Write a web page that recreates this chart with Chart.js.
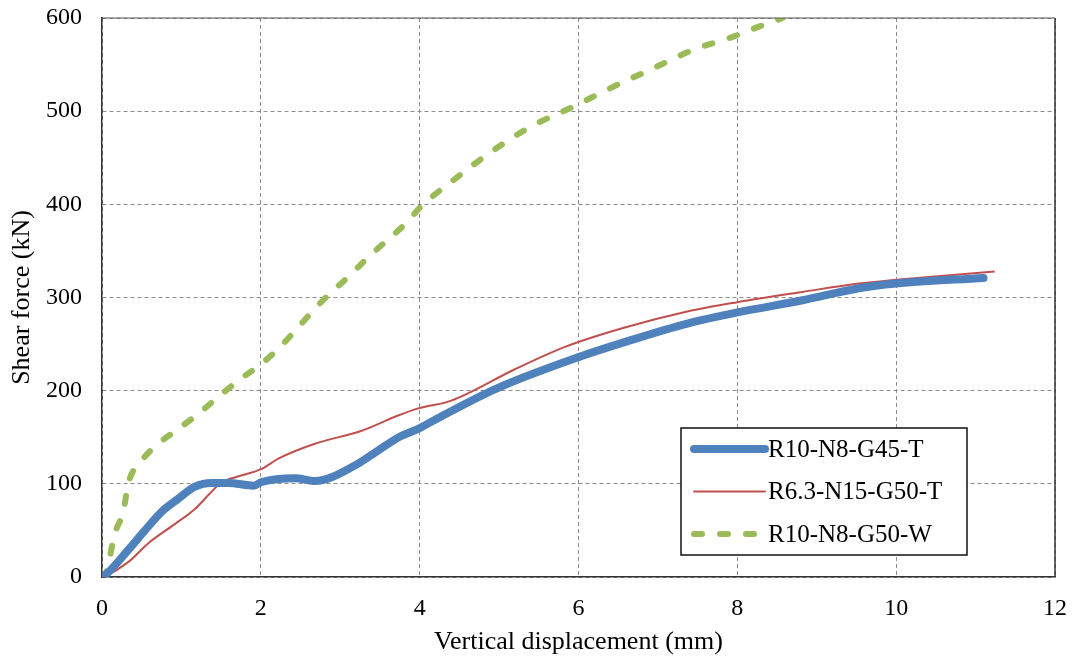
<!DOCTYPE html>
<html>
<head>
<meta charset="utf-8">
<title>Shear force vs vertical displacement</title>
<script src="https://cdn.jsdelivr.net/npm/chart.js@4.4.1/dist/chart.umd.min.js"></script>
<style>
    html, body { margin: 0; padding: 0; background: #fff; }
    #wrap { width: 1072px; height: 659px; }
</style>
</head>
<body>
<div id="wrap"><canvas id="chart" width="1072" height="659"></canvas></div>
<script>
// R10-N8-G45-T
const blueDisp  = [0, 0.04, 0.33, 0.54, 0.75, 0.96, 1.17, 1.38, 1.59, 1.91, 2.01, 2.43, 2.68, 3.19, 3.48, 3.76, 3.98, 4.24, 4.96, 6.0, 6.65, 7.37, 8.0, 8.82, 9.53, 10.0, 11.1];
const blueForce = [0, 2, 29, 50, 70, 84, 97, 101, 101, 98, 102, 106, 103, 120, 136, 151, 159, 171, 202, 236, 254, 272, 284, 297, 310, 315, 321];

// R6.3-N15-G50-T
const redDisp  = [0, 0.04, 0.33, 0.58, 0.92, 1.17, 1.34, 1.51, 1.68, 2.01, 2.22, 2.68, 3.27, 3.69, 3.98, 4.39, 5.2, 5.83, 6.55, 7.37, 8.0, 8.82, 9.53, 10.0, 11.24];
const redForce = [0, 1, 16, 36, 57, 73, 88, 102, 107, 116, 127, 143, 157, 172, 181, 189, 223, 247, 267, 285, 295, 306, 315, 319, 328];

// R10-N8-G50-W
const greenDisp  = [0, 0.04, 0.08, 0.16, 0.27, 0.33, 0.5, 0.71, 0.96, 1.21, 1.46, 1.72, 2.01, 2.22, 2.47, 2.68, 2.89, 3.1, 3.35, 3.61, 3.82, 4.01, 4.47, 4.93, 5.39, 5.94, 6.36, 6.94, 7.45, 7.95, 8.28, 8.57];
const greenForce = [0, 2, 14, 46, 71, 100, 125, 143, 159, 175, 193, 211, 229, 245, 268, 288, 306, 322, 343, 363, 379, 397, 429, 458, 483, 505, 523, 546, 566, 580, 591, 600];

const seriesNames = ["R10-N8-G45-T", "R6.3-N15-G50-T", "R10-N8-G50-W"];
const xTicks = [0, 2, 4, 6, 8, 10, 12];
const yTicks = [0, 100, 200, 300, 400, 500, 600];

const serif = '"Liberation Serif", "Times New Roman", Times, serif';
const gridColor = "#8c8c8c";
const axisColor = "#333333";

function toPoints(xs, ys) {
    return xs.map(function (x, i) { return { x: x, y: ys[i] }; });
}

// right/top edges of the plot frame
const frame = {
    id: "frame",
    afterDraw(chart) {
        const a = chart.chartArea;
        const ctx = chart.ctx;
        ctx.save();
        ctx.strokeStyle = axisColor;
        ctx.lineWidth = 1.5;
        ctx.beginPath();
        ctx.moveTo(a.right, a.top);
        ctx.lineTo(a.right, a.bottom);
        ctx.stroke();
        ctx.strokeStyle = "#555";
        ctx.lineWidth = 1;
        ctx.beginPath();
        ctx.moveTo(a.left, a.top);
        ctx.lineTo(a.right, a.top);
        ctx.stroke();
        ctx.restore();
    }
};

// boxed legend in the lower right of the plot
const boxLegend = {
    id: "boxLegend",
    afterDraw(chart) {
        const ctx = chart.ctx;
        const x0 = 681, y0 = 428, w = 286, h = 127;
        ctx.save();
        ctx.fillStyle = "#fff";
        ctx.fillRect(x0, y0, w, h);
        ctx.strokeStyle = "#111";
        ctx.lineWidth = 1.5;
        ctx.strokeRect(x0, y0, w, h);
        ctx.font = "25px " + serif;
        ctx.textBaseline = "middle";
        chart.data.datasets.forEach(function (ds, i) {
            const y = y0 + 21 + i * 42.5;
            ctx.strokeStyle = ds.borderColor;
            ctx.lineWidth = ds.borderWidth;
            ctx.lineCap = "round";
            ctx.setLineDash(ds.borderDash || []);
            ctx.beginPath();
            ctx.moveTo(x0 + 13, y);
            ctx.lineTo(x0 + 84, y);
            ctx.stroke();
            ctx.setLineDash([]);
            ctx.fillStyle = "#000";
            ctx.fillText(ds.label, x0 + 87, y + 1);
        });
        ctx.restore();
    }
};

new Chart(document.getElementById("chart").getContext("2d"), {
    type: "line",
    data: {
        datasets: [{
            label: seriesNames[0],
            data: toPoints(blueDisp, blueForce),
            borderColor: "#4f81bd",
            borderWidth: 8,
            borderCapStyle: "round",
            borderJoinStyle: "round"
        }, {
            label: seriesNames[1],
            data: toPoints(redDisp, redForce),
            borderColor: "#c0504d",
            borderWidth: 2,
            borderJoinStyle: "round"
        }, {
            label: seriesNames[2],
            data: toPoints(greenDisp, greenForce),
            borderColor: "#9bbb59",
            borderWidth: 6,
            borderDash: [8, 18],
            borderCapStyle: "round"
        }]
    },
    options: {
        responsive: false,
        animation: false,
        events: [],
        layout: { padding: { top: 18, right: 17, left: 0, bottom: 0 } },
        elements: {
            point: { radius: 0 },
            line: { cubicInterpolationMode: "monotone", fill: false }
        },
        plugins: {
            legend: { display: false },
            tooltip: { enabled: false }
        },
        scales: {
            x: {
                type: "linear",
                min: 0,
                max: 12,
                afterFit: function (s) {
                    s.height = 82;
                    s.paddingLeft = 0;
                    s.paddingRight = 0;
                },
                afterBuildTicks: function (s) { s.ticks = xTicks.map(function (v) { return { value: v }; }); },
                grid: { color: gridColor, lineWidth: 1, drawTicks: false },
                border: { display: true, color: axisColor, width: 1.5, dash: [4, 3] },
                ticks: { color: "#000", padding: 17, font: { family: serif, size: 24 } },
                title: {
                    display: true,
                    text: "Vertical displacement (mm)",
                    color: "#000",
                    padding: 1,
                    font: { family: serif, size: 26 }
                }
            },
            y: {
                type: "linear",
                min: 0,
                max: 600,
                afterFit: function (s) {
                    s.width = 102;
                    s.paddingTop = 0;
                    s.paddingBottom = 0;
                },
                afterBuildTicks: function (s) { s.ticks = yTicks.map(function (v) { return { value: v }; }); },
                grid: { color: gridColor, lineWidth: 1, drawTicks: false },
                border: { display: true, color: axisColor, width: 1.5, dash: [4, 3] },
                ticks: { color: "#000", padding: 20, font: { family: serif, size: 24 } },
                title: {
                    display: true,
                    text: "Shear force (kN)",
                    color: "#000",
                    padding: 7,
                    font: { family: serif, size: 26 }
                }
            }
        }
    },
    plugins: [frame, boxLegend]
});
</script>
</body>
</html>
